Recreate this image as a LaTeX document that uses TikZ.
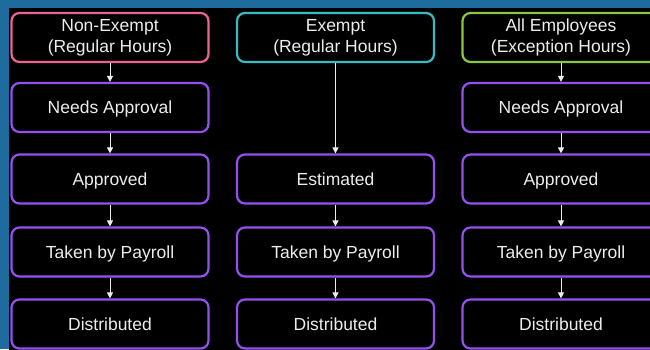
\documentclass[tikz,border=0pt]{standalone}
\usepackage{fontspec}
\setmainfont{Liberation Sans}
\usetikzlibrary{arrows.meta}
\definecolor{bgblue}{HTML}{1E6C9E}
\definecolor{pinkc}{HTML}{EC6394}
\definecolor{tealc}{HTML}{38BCC4}
\definecolor{greenc}{HTML}{8DC63F}
\definecolor{purplec}{HTML}{9650F0}
\definecolor{txt}{HTML}{EDEDED}
\tikzset{
  box/.style={draw, line width=2.2pt, rounded corners=8pt, fill=black,
    minimum width=197pt, minimum height=49pt, text=txt, align=center,
    font=\fontsize{17.5}{21}\selectfont, inner sep=0pt},
  stage/.style={box, draw=purplec, text height=14pt, text depth=1.4pt},
  flow/.style={draw=txt, line width=0.9pt, -{Triangle[width=6pt,length=6pt]}},
}
\begin{document}
\begin{tikzpicture}[x=1pt,y=-1pt]
\useasboundingbox (0,0) rectangle (650,349);
\clip (0,0) rectangle (650,349);
\fill[bgblue] (0,0) rectangle (650,349);
\fill[black] (9,8) rectangle (660,360);
% column 1
\node[box, draw=pinkc] (a1) at (110,37.5) {Non-Exempt\\(Regular Hours)};
\node[stage] (a2) at (110,107.5) {Needs Approval};
\node[stage] (a3) at (110,179) {Approved};
\node[stage] (a4) at (110,252) {Taken by Payroll};
\node[stage] (a5) at (110,324) {Distributed};
% column 2
\node[box, draw=tealc] (b1) at (335.5,37.5) {Exempt\\(Regular Hours)};
\node[stage] (b3) at (335.5,179) {Estimated};
\node[stage] (b4) at (335.5,252) {Taken by Payroll};
\node[stage] (b5) at (335.5,324) {Distributed};
% column 3
\node[box, draw=greenc] (c1) at (561,37.5) {All Employees\\(Exception Hours)};
\node[stage] (c2) at (561,107.5) {Needs Approval};
\node[stage] (c3) at (561,179) {Approved};
\node[stage] (c4) at (561,252) {Taken by Payroll};
\node[stage] (c5) at (561,324) {Distributed};
% connectors
\draw[flow] (a1) -- (a2);
\draw[flow] (a2) -- (a3);
\draw[flow] (a3) -- (a4);
\draw[flow] (a4) -- (a5);
\draw[flow] (b1) -- (b3);
\draw[flow] (b3) -- (b4);
\draw[flow] (b4) -- (b5);
\draw[flow] (c1) -- (c2);
\draw[flow] (c2) -- (c3);
\draw[flow] (c3) -- (c4);
\draw[flow] (c4) -- (c5);
\end{tikzpicture}
\end{document}
